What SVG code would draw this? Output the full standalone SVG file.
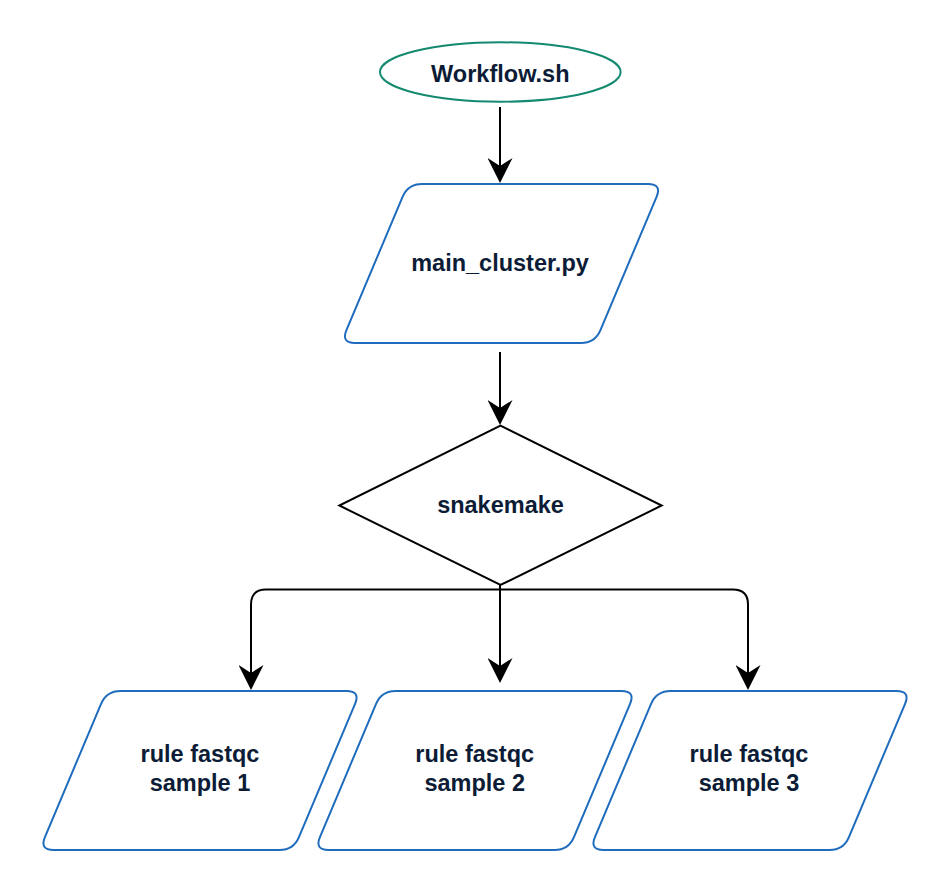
<svg xmlns="http://www.w3.org/2000/svg" xmlns:xlink="http://www.w3.org/1999/xlink" width="950" height="893" viewBox="0 0 950 893">
  <style>
    .lbl { font-family: "Liberation Sans", Arial, sans-serif; font-weight: bold; font-size: 23.5px; fill: #0c1c36; text-anchor: middle; }
    .para { fill: #ffffff; stroke: #1f6cbd; stroke-width: 2; }
    .term { fill: #ffffff; stroke: #13896f; stroke-width: 2; }
    .dec { fill: #ffffff; stroke: #000000; stroke-width: 2; stroke-linejoin: miter; }
    .edge { fill: none; stroke: #000000; stroke-width: 2; marker-end: url(#arrow); }
  </style>
  <defs>
    <marker id="arrow" viewBox="0 0 25 25" markerUnits="userSpaceOnUse" markerWidth="25" markerHeight="25" refX="8" refY="12.5" orient="auto">
      <path d="M0,0 L25,12.5 L0,25 L8,12.5 Z" fill="#000000"/>
    </marker>
    <path id="paraShape" d="M -79.5,-79.5 H 146.5 Q 160.5,-79.5 155.06,-66.6 L 98.94,66.6 Q 93.5,79.5 79.5,79.5 H -146.5 Q -160.5,79.5 -155.06,66.6 L -98.94,-66.6 Q -93.5,-79.5 -79.5,-79.5 Z"/>
  </defs>
  <rect x="0" y="0" width="950" height="893" fill="#ffffff"/>

  <g id="connectors">
    <path class="edge" d="M500,107 V166"/>
    <path class="edge" d="M500,352 V408"/>
    <path class="edge" d="M500,585 V666"/>
    <path class="edge" d="M500,589.5 H266 Q251,589.5 251,604.5 V673"/>
    <path class="edge" d="M500,589.5 H733 Q748,589.5 748,604.5 V673"/>
  </g>

  <g id="node-workflow">
    <ellipse class="term" cx="500.3" cy="72" rx="120.3" ry="29.7"/>
    <text class="lbl" x="500.3" y="82">Workflow.sh</text>
  </g>

  <g id="node-main-cluster">
    <use xlink:href="#paraShape" class="para" transform="translate(501.5,263.5)"/>
    <text class="lbl" x="500" y="271">main_cluster.py</text>
  </g>

  <g id="node-snakemake">
    <polygon class="dec" points="500.5,425.7 661.7,505.5 500.5,585 339.3,505.5"/>
    <text class="lbl" x="500.5" y="513">snakemake</text>
  </g>

  <g id="node-sample1">
    <use xlink:href="#paraShape" class="para" transform="translate(200,770.5)"/>
    <text class="lbl" x="200" y="762">rule fastqc</text>
    <text class="lbl" x="200" y="791">sample 1</text>
  </g>

  <g id="node-sample2">
    <use xlink:href="#paraShape" class="para" transform="translate(475,770.5)"/>
    <text class="lbl" x="474.7" y="762">rule fastqc</text>
    <text class="lbl" x="474.7" y="791">sample 2</text>
  </g>

  <g id="node-sample3">
    <use xlink:href="#paraShape" class="para" transform="translate(750,770.5)"/>
    <text class="lbl" x="749" y="762">rule fastqc</text>
    <text class="lbl" x="749" y="791">sample 3</text>
  </g>
</svg>
